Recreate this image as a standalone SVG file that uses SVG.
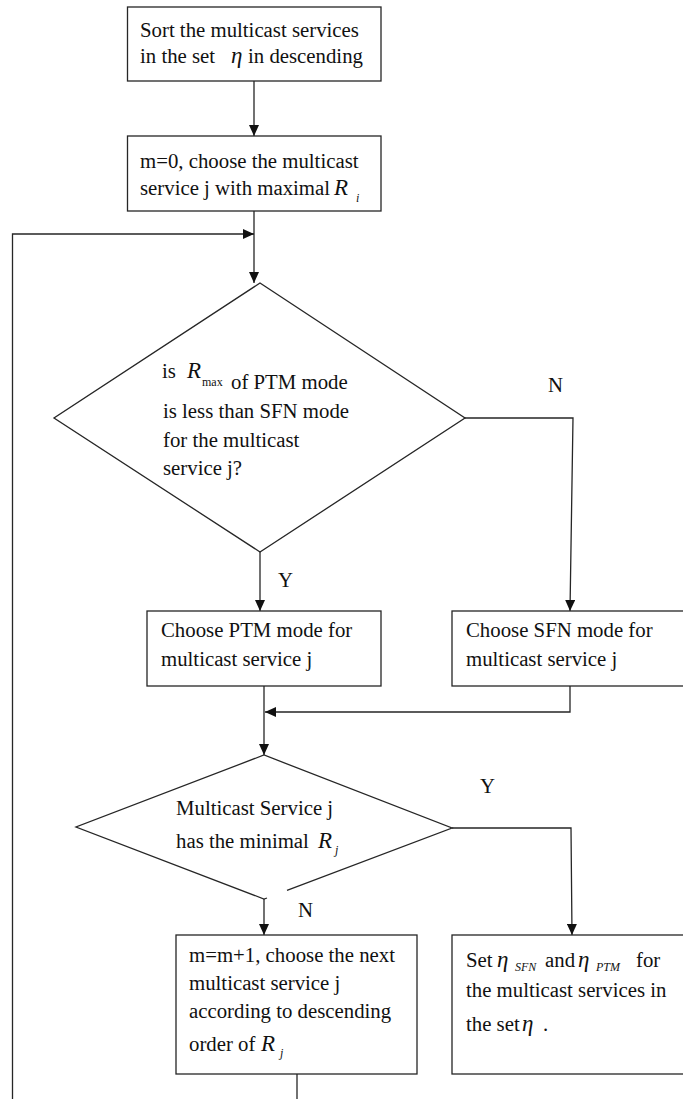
<svg xmlns="http://www.w3.org/2000/svg" width="683" height="1099" viewBox="0 0 683 1099">
<style>
.bg{fill:#ffffff}
.box{fill:#ffffff;stroke:#262626;stroke-width:1.3}
.ln{fill:none;stroke:#262626;stroke-width:1.3}
.t{font-family:"Liberation Serif","Times New Roman",serif;font-size:20.8px;fill:#111111}
.it{font-style:italic}
.m{font-size:23px}
.s{font-size:12px}
</style>
<defs>
<marker id="ah" viewBox="0 0 11 10" refX="11" refY="5" markerWidth="11" markerHeight="10" markerUnits="userSpaceOnUse" orient="auto">
<path d="M0,0 L11,5 L0,10 Z" fill="#111111"/>
</marker>
</defs>
<rect class="bg" x="0" y="0" width="683" height="1099"/>

<g id="connectors">
<line class="ln" x1="254" y1="81" x2="254" y2="136" marker-end="url(#ah)"/>
<line class="ln" x1="254" y1="211" x2="254" y2="283" marker-end="url(#ah)"/>
<path class="ln" d="M12.5,1099 V234 H254" marker-end="url(#ah)"/>
<path class="ln" d="M465,418 H573 L570,611" marker-end="url(#ah)"/>
<line class="ln" x1="260" y1="552" x2="260" y2="611" marker-end="url(#ah)"/>
<line class="ln" x1="264" y1="686" x2="264" y2="755" marker-end="url(#ah)"/>
<path class="ln" d="M570,686 V712 H265" marker-end="url(#ah)"/>
<path class="ln" d="M452,828 H571 L572,935" marker-end="url(#ah)"/>
<line class="ln" x1="264" y1="899" x2="264" y2="935" marker-end="url(#ah)"/>
<line class="ln" x1="297" y1="1074" x2="297" y2="1099"/>
<text class="t" x="548" y="392">N</text>
<text class="t" x="278" y="587">Y</text>
<text class="t" x="480" y="793">Y</text>
<text class="t" x="298" y="917">N</text>
</g>

<g id="sort">
<rect class="box" x="127.5" y="7" width="253.5" height="74"/>
<text class="t" x="140" y="37">Sort the multicast services</text>
<text class="t" y="63"><tspan x="140">in the set</tspan><tspan x="231" class="it m">η</tspan><tspan x="248">in descending</tspan></text>
</g>

<g id="init">
<rect class="box" x="127.5" y="136" width="253.5" height="75"/>
<text class="t" x="140" y="168">m=0, choose the multicast</text>
<text class="t" x="140" y="195">service j with maximal</text>
<text class="t it m" x="334" y="195">R</text>
<text class="t it s" x="356" y="202">i</text>
</g>

<g id="decision1">
<polygon class="box" points="260,283 465,418 260,552 54,418"/>
<text class="t" x="162" y="378">is</text>
<text class="t it m" x="187" y="378">R</text>
<text class="t s" x="202" y="386">max</text>
<text class="t" x="231" y="389">of PTM mode</text>
<text class="t" x="163" y="418">is less than SFN mode</text>
<text class="t" x="163" y="447">for the multicast</text>
<text class="t" x="163" y="475">service j?</text>
</g>

<g id="ptm">
<rect class="box" x="147" y="611" width="234" height="75"/>
<text class="t" x="161" y="637">Choose PTM mode for</text>
<text class="t" x="161" y="666">multicast service j</text>
</g>

<g id="sfn">
<rect class="box" x="452" y="611" width="240" height="75"/>
<text class="t" x="466" y="637">Choose SFN mode for</text>
<text class="t" x="466" y="666">multicast service j</text>
</g>

<g id="decision2">
<path class="box" d="M267,898 L264,899 L76,827 L264,755 L452,828 L287,890.3"/>
<text class="t" x="176" y="815">Multicast Service j</text>
<text class="t" x="176" y="848">has the minimal</text>
<text class="t it m" x="318" y="848">R</text>
<text class="t it s" x="335" y="854">j</text>
</g>

<g id="next">
<rect class="box" x="176" y="935" width="241" height="139"/>
<text class="t" x="189" y="962">m=m+1, choose the next</text>
<text class="t" x="189" y="990">multicast service j</text>
<text class="t" x="189" y="1018">according to descending</text>
<text class="t" x="189" y="1051">order of</text>
<text class="t it m" x="261" y="1051">R</text>
<text class="t it s" x="280" y="1057">j</text>
</g>

<g id="set">
<rect class="box" x="452" y="935" width="240" height="139"/>
<text class="t" x="466" y="967">Set</text>
<text class="t it m" x="497" y="967">η</text>
<text class="t it s" x="515" y="971">SFN</text>
<text class="t" x="545" y="967">and</text>
<text class="t it m" x="578" y="967">η</text>
<text class="t it s" x="596" y="971">PTM</text>
<text class="t" x="636" y="967">for</text>
<text class="t" x="466" y="997">the multicast services in</text>
<text class="t" x="466" y="1031">the set</text>
<text class="t it m" x="522" y="1031">η</text>
<text class="t" x="543" y="1031">.</text>
</g>
</svg>
